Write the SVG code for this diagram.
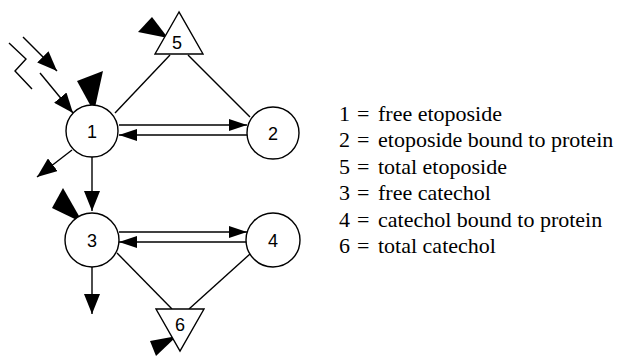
<svg xmlns="http://www.w3.org/2000/svg" width="619" height="358" viewBox="0 0 619 358">
<defs>
<style>
.node{fill:#fff;stroke:#000;stroke-width:1.4}
.lbl{font-family:"Liberation Sans",Arial,sans-serif;font-size:18px;text-anchor:middle;fill:#000}
.ln{stroke:#000;stroke-width:1.4;fill:none}
.big{fill:#000;stroke:none}
.leg{font-size:22px;fill:#000}
</style>
<marker id="h" markerUnits="userSpaceOnUse" markerWidth="18" markerHeight="12" refX="18" refY="6" orient="auto">
<path d="M0,0 L18,6 L0,12 z" fill="#000"/>
</marker>
<marker id="m" markerUnits="userSpaceOnUse" markerWidth="20" markerHeight="16" refX="20" refY="8" orient="auto">
<path d="M0,0 L20,8 L0,16 z" fill="#000"/>
</marker>
</defs>
<rect width="619" height="358" fill="#fff"/>
<g id="connectors">
<line class="ln" x1="115" y1="113" x2="170" y2="55"/>
<line class="ln" x1="188" y1="55" x2="250" y2="117"/>
<line class="ln" x1="117" y1="253" x2="172" y2="309"/>
<line class="ln" x1="250" y1="254" x2="189" y2="309"/>
<line class="ln" x1="119" y1="125" x2="247" y2="125" marker-end="url(#h)"/>
<line class="ln" x1="247" y1="135" x2="119" y2="135" marker-end="url(#h)"/>
<line class="ln" x1="119" y1="232" x2="247" y2="232" marker-end="url(#h)"/>
<line class="ln" x1="247" y1="242" x2="119" y2="242" marker-end="url(#h)"/>
<line class="ln" x1="92" y1="157" x2="92" y2="211" marker-end="url(#m)"/>
<line class="ln" x1="92" y1="267" x2="92" y2="314" marker-end="url(#m)"/>
<line class="ln" x1="72" y1="150" x2="37" y2="177" marker-end="url(#m)"/>
<polyline class="ln" points="9,43 26,59 15,71 32,89"/>
<line class="ln" x1="23" y1="37" x2="57" y2="71" marker-end="url(#m)"/>
<line class="ln" x1="40" y1="73" x2="73" y2="113" marker-end="url(#m)"/>
<polygon class="big" points="77,81 103,71 94,112"/>
<polygon class="big" points="138,32 152,17 168,38"/>
<polygon class="big" points="52,208 63,188 83,223"/>
<polygon class="big" points="150,341 156,356 177,336"/>
</g>
<g id="node1"><circle class="node" cx="92" cy="131" r="26"/><text class="lbl" x="92" y="137.5">1</text></g>
<g id="node2"><circle class="node" cx="273" cy="133" r="26"/><text class="lbl" x="273" y="139.5">2</text></g>
<g id="node3"><circle class="node" cx="92" cy="240" r="27"/><text class="lbl" x="92" y="246.5">3</text></g>
<g id="node4"><circle class="node" cx="273" cy="240" r="27"/><text class="lbl" x="273" y="246.5">4</text></g>
<g id="node5"><polygon class="node" points="179,12 155,54 203,54"/><text class="lbl" x="177" y="49">5</text></g>
<g id="node6"><polygon class="node" points="156,309 204,309 180,351"/><text class="lbl" x="180" y="331">6</text></g>
<g id="legend" font-family="Liberation Serif, Times New Roman, DejaVu Serif, serif">
<text class="leg" x="339" y="121">1</text><text class="leg" x="357" y="121">=</text><text class="leg" x="378" y="121">free etoposide</text>
<text class="leg" x="339" y="147">2</text><text class="leg" x="357" y="147">=</text><text class="leg" x="378" y="147">etoposide bound to protein</text>
<text class="leg" x="339" y="174">5</text><text class="leg" x="357" y="174">=</text><text class="leg" x="378" y="174">total etoposide</text>
<text class="leg" x="339" y="200">3</text><text class="leg" x="357" y="200">=</text><text class="leg" x="378" y="200">free catechol</text>
<text class="leg" x="339" y="227">4</text><text class="leg" x="357" y="227">=</text><text class="leg" x="378" y="227">catechol bound to protein</text>
<text class="leg" x="339" y="253">6</text><text class="leg" x="357" y="253">=</text><text class="leg" x="378" y="253">total catechol</text>
</g>
</svg>
